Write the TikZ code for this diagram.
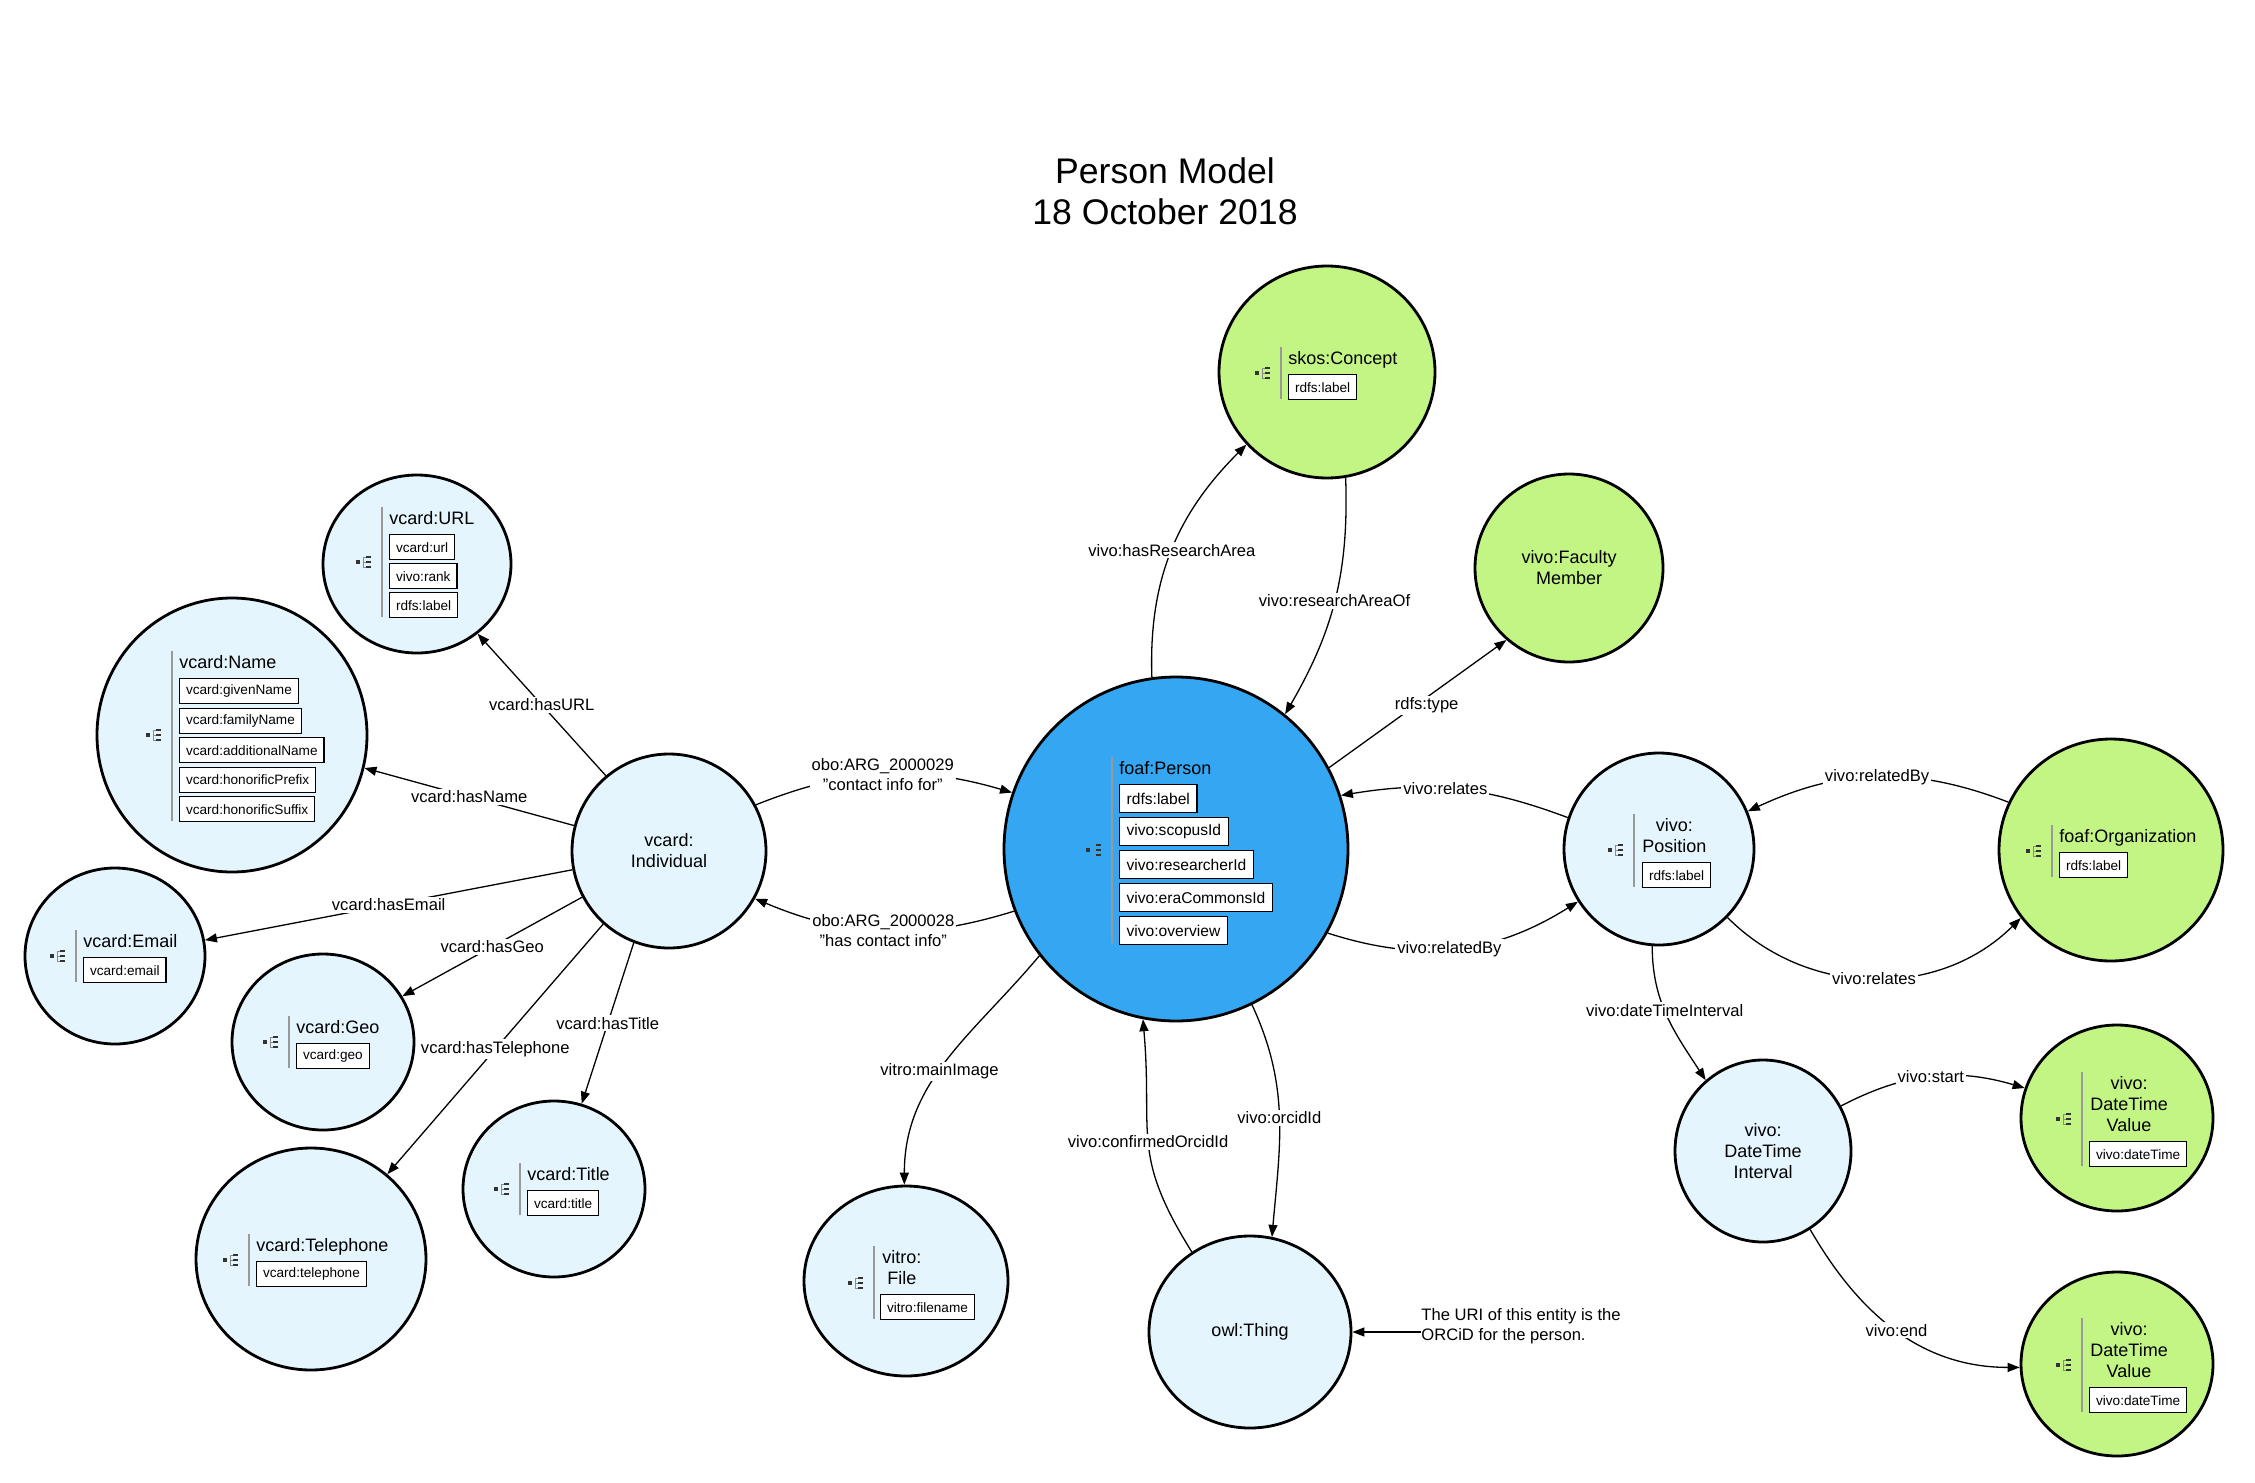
\documentclass[tikz,border=0pt]{standalone}
\usepackage{fontspec}
\setmainfont{Liberation Sans}
\usetikzlibrary{arrows.meta,shapes.geometric}
\definecolor{lblue}{HTML}{E4F5FD}
\definecolor{pblue}{HTML}{35A7F2}
\definecolor{lgreen}{HTML}{C3F584}
\tikzset{
  treeicon/.pic={
    \fill[black!80] (-13pt,-0.9pt) rectangle (-11pt,0.9pt);
    \draw[black!45,line width=0.3pt] (-9.3pt,2.4pt) -- (-9.3pt,-2.4pt);
    \foreach \yy in {2.4,0,-2.4}{
      \draw[black!45,line width=0.3pt] (-9.3pt,\yy pt) -- (-8pt,\yy pt);
      \fill[black!80] (-8pt,{(\yy-0.6)*1pt}) rectangle (-5.5pt,{(\yy+0.6)*1pt});
    }
  },
  cls/.style={ellipse, draw, line width=1.4pt, inner sep=0pt},
  lb/.style={cls, fill=lblue},
  gr/.style={cls, fill=lgreen},
  bl/.style={cls, fill=pblue},
  sz/.style 2 args={minimum width=#1pt, minimum height=#2pt},
  cname/.style={inner sep=0pt, anchor=north west, font=\fontsize{9}{10.5}\selectfont, align=center},
  ntext/.style={font=\fontsize{9}{10.5}\selectfont, align=center},
  pbox/.style={draw, fill=white, line width=0.65pt, inner xsep=3.2pt, inner ysep=0pt,
    minimum height=12.5pt, anchor=north west, font=\fontsize{6.8}{8}\selectfont},
  pboxL/.style={pbox, minimum height=14pt, inner xsep=3.5pt, font=\fontsize{7.8}{9}\selectfont},
  vl/.style={draw=black!40, line width=0.6pt},
  arr/.style={-{Triangle[length=6pt,width=4.5pt]}, line width=0.65pt},
  elab/.style={fill=white, inner sep=1pt, font=\fontsize{8.3}{10}\selectfont, align=center},
}
\begin{document}
\begin{tikzpicture}[x=0.5pt,y=0.5pt]
\useasboundingbox (0,0) rectangle (2255,-1483);

% title
\node[font=\fontsize{17.8}{20.5}\selectfont, align=center] (title) at (1165,-191) {Person Model\\18 October 2018};

% class ellipses
\node[gr, sz={108}{106}] (skos) at (1327,-372) {};
\node[gr, sz={94}{94}, ntext] (faculty) at (1569,-568) {vivo:Faculty\\Member};
\node[bl, sz={172}{172}] (person) at (1176,-849) {};
\node[lb, sz={95}{96}] (position) at (1659,-849) {};
\node[gr, sz={112}{111}] (org) at (2111,-850) {};
\node[lb, sz={88}{91}, ntext] (interval) at (1763,-1151) {vivo:\\DateTime\\Interval};
\node[gr, sz={96}{93}] (value1) at (2117,-1118) {};
\node[gr, sz={96}{92}] (value2) at (2117,-1364) {};
\node[lb, sz={101}{96}, ntext] (owl) at (1250,-1332) {owl:Thing};
\node[lb, sz={102}{95}] (file) at (906,-1281) {};
\node[lb, sz={97}{97}, ntext] (individual) at (669,-851) {vcard:\\Individual};
\node[lb, sz={94}{89}] (url) at (417,-564) {};
\node[lb, sz={135}{137}] (name) at (232,-735) {};
\node[lb, sz={90}{88}] (email) at (115,-956) {};
\node[lb, sz={91}{88}] (geo) at (323,-1042) {};
\node[lb, sz={115}{111}] (tel) at (311,-1259) {};
\node[lb, sz={91}{88}] (vtitle) at (554,-1189) {};

\node[anchor=west, align=left, inner sep=0pt, font=\fontsize{8.3}{9.8}\selectfont] (note) at (1421,-1326) {The URI of this entity is the\\ORCiD for the person.};

% connectors
\draw[arr] (person.98) to[out=92,in=225] node[elab]{vivo:hasResearchArea} (skos.222);
\draw[arr] (skos.280) to[out=-88,in=60] node[elab]{vivo:researchAreaOf} (person.51);
\draw[arr] (person.28) -- node[elab,pos=0.55,yshift=-4pt]{rdfs:type} (faculty.229);
\draw[arr] (position.161) to[bend right=15] node[elab,pos=0.55]{vivo:relates} (person.18);
\draw[arr] (person.-29) to[bend right=25] node[elab,pos=0.47]{vivo:relatedBy} (position.213);
\draw[arr] (org.155) to[bend right=23] node[elab]{vivo:relatedBy} (position.23);
\draw[arr] (position.-45) to[bend right=45] node[elab]{vivo:relates} (org.217);
\draw[arr] (position.266) to[out=-90,in=123] node[elab,pos=0.45]{vivo:dateTimeInterval} (interval.129);
\draw[arr] (interval.30) to[bend left=22] node[elab]{vivo:start} (value1.162);
\draw[arr] (interval.-59) to[out=-60,in=180] node[elab]{vivo:end} (value2.182);
\draw[arr] (person.218) to[out=-130,in=90] node[elab,pos=0.55]{vitro:mainImage} (file.91);
\draw[arr] (owl.126) to[out=122,in=-85,looseness=1.25] node[elab]{vivo:confirmedOrcidId} (person.259);
\draw[arr] (person.-64) to[out=-65,in=85] node[elab]{vivo:orcidId} (owl.77);
\draw[arr] (note.west |- owl.east) -- (owl.east);
\draw[arr] (individual.28) to[bend left=19] node[elab]{obo:ARG\_2000029\\"contact info for"} (person.161);
\draw[arr] (person.201) to[bend left=20] node[elab]{obo:ARG\_2000028\\"has contact info"} (individual.-29);
\draw[arr] (individual.130) -- node[elab]{vcard:hasURL} (url.-49);
\draw[arr] (individual.165) -- node[elab]{vcard:hasName} (name.-14);
\draw[arr] (individual.191) -- node[elab]{vcard:hasEmail} (email.10);
\draw[arr] (individual.208) -- node[elab]{vcard:hasGeo} (geo.30);
\draw[arr] (individual.228) -- node[elab]{vcard:hasTelephone} (tel.48);
\draw[arr] (individual.249) -- node[elab]{vcard:hasTitle} (vtitle.72);

% contents: foaf:Person
\draw[vl] (1112,-757) -- (1112,-943);
\pic at (1112,-850) {treeicon};
\node[cname] (personN) at (1119,-761) {foaf:Person};
\node[pboxL] (personP1) at (1119,-784) {rdfs:label};
\node[pboxL] (personP2) at (1119,-817) {vivo:scopusId};
\node[pboxL] (personP3) at (1119,-850) {vivo:researcherId};
\node[pboxL] (personP4) at (1119,-883) {vivo:eraCommonsId};
\node[pboxL] (personP5) at (1119,-916) {vivo:overview};

% skos:Concept
\draw[vl] (1281,-347) -- (1281,-399);
\pic at (1281,-373) {treeicon};
\node[cname] (skosN) at (1288,-351) {skos:Concept};
\node[pbox] (skosP1) at (1288,-374) {rdfs:label};

% vcard:URL
\draw[vl] (382,-507) -- (382,-617);
\pic at (382,-562) {treeicon};
\node[cname] (urlN) at (389,-511) {vcard:URL};
\node[pbox] (urlP1) at (389,-534) {vcard:url};
\node[pbox] (urlP2) at (389,-563) {vivo:rank};
\node[pbox] (urlP3) at (389,-592) {rdfs:label};

% vcard:Name
\draw[vl] (172,-651) -- (172,-821);
\pic at (172,-735) {treeicon};
\node[cname] (nameN) at (179,-655) {vcard:Name};
\node[pbox] (nameP1) at (179,-678) {vcard:givenName};
\node[pbox] (nameP2) at (179,-707.5) {vcard:familyName};
\node[pbox] (nameP3) at (179,-737) {vcard:additionalName};
\node[pbox] (nameP4) at (179,-766.5) {vcard:honorificPrefix};
\node[pbox] (nameP5) at (179,-796) {vcard:honorificSuffix};

% vcard:Email
\draw[vl] (76,-930) -- (76,-982);
\pic at (76,-956) {treeicon};
\node[cname] (emailN) at (83,-934) {vcard:Email};
\node[pbox] (emailP1) at (83,-957) {vcard:email};

% vcard:Geo
\draw[vl] (289,-1016) -- (289,-1068);
\pic at (289,-1042) {treeicon};
\node[cname] (geoN) at (296,-1020) {vcard:Geo};
\node[pbox] (geoP1) at (296,-1043) {vcard:geo};

% vcard:Telephone
\draw[vl] (249,-1234) -- (249,-1286);
\pic at (249,-1260) {treeicon};
\node[cname] (telN) at (256,-1238) {vcard:Telephone};
\node[pbox] (telP1) at (256,-1261) {vcard:telephone};

% vcard:Title
\draw[vl] (520,-1163) -- (520,-1215);
\pic at (520,-1189) {treeicon};
\node[cname] (titleN) at (527,-1167) {vcard:Title};
\node[pbox] (titleP1) at (527,-1190) {vcard:title};

% foaf:Organization
\draw[vl] (2052,-825) -- (2052,-877);
\pic at (2052,-851) {treeicon};
\node[cname] (orgN) at (2059,-829) {foaf:Organization};
\node[pbox] (orgP1) at (2059,-852) {rdfs:label};

% vivo:Position
\draw[vl] (1634,-814) -- (1634,-887);
\pic at (1634,-850) {treeicon};
\node[cname] (positionN) at (1642,-818) {vivo:\\Position};
\node[pbox] (positionP1) at (1642,-862) {rdfs:label};

% vivo:DateTime Value (start)
\draw[vl] (2082,-1072) -- (2082,-1166);
\pic at (2082,-1119) {treeicon};
\node[cname] (value1N) at (2090,-1076) {vivo:\\DateTime\\Value};
\node[pbox] (value1P1) at (2089,-1141) {vivo:dateTime};

% vivo:DateTime Value (end)
\draw[vl] (2082,-1318) -- (2082,-1412);
\pic at (2082,-1365) {treeicon};
\node[cname] (value2N) at (2090,-1322) {vivo:\\DateTime\\Value};
\node[pbox] (value2P1) at (2089,-1387) {vivo:dateTime};

% vitro:File
\draw[vl] (874,-1246) -- (874,-1319);
\pic at (874,-1283) {treeicon};
\node[cname] (fileN) at (882,-1250) {vitro:\\File};
\node[pbox] (fileP1) at (880,-1294) {vitro:filename};

\end{tikzpicture}
\end{document}
